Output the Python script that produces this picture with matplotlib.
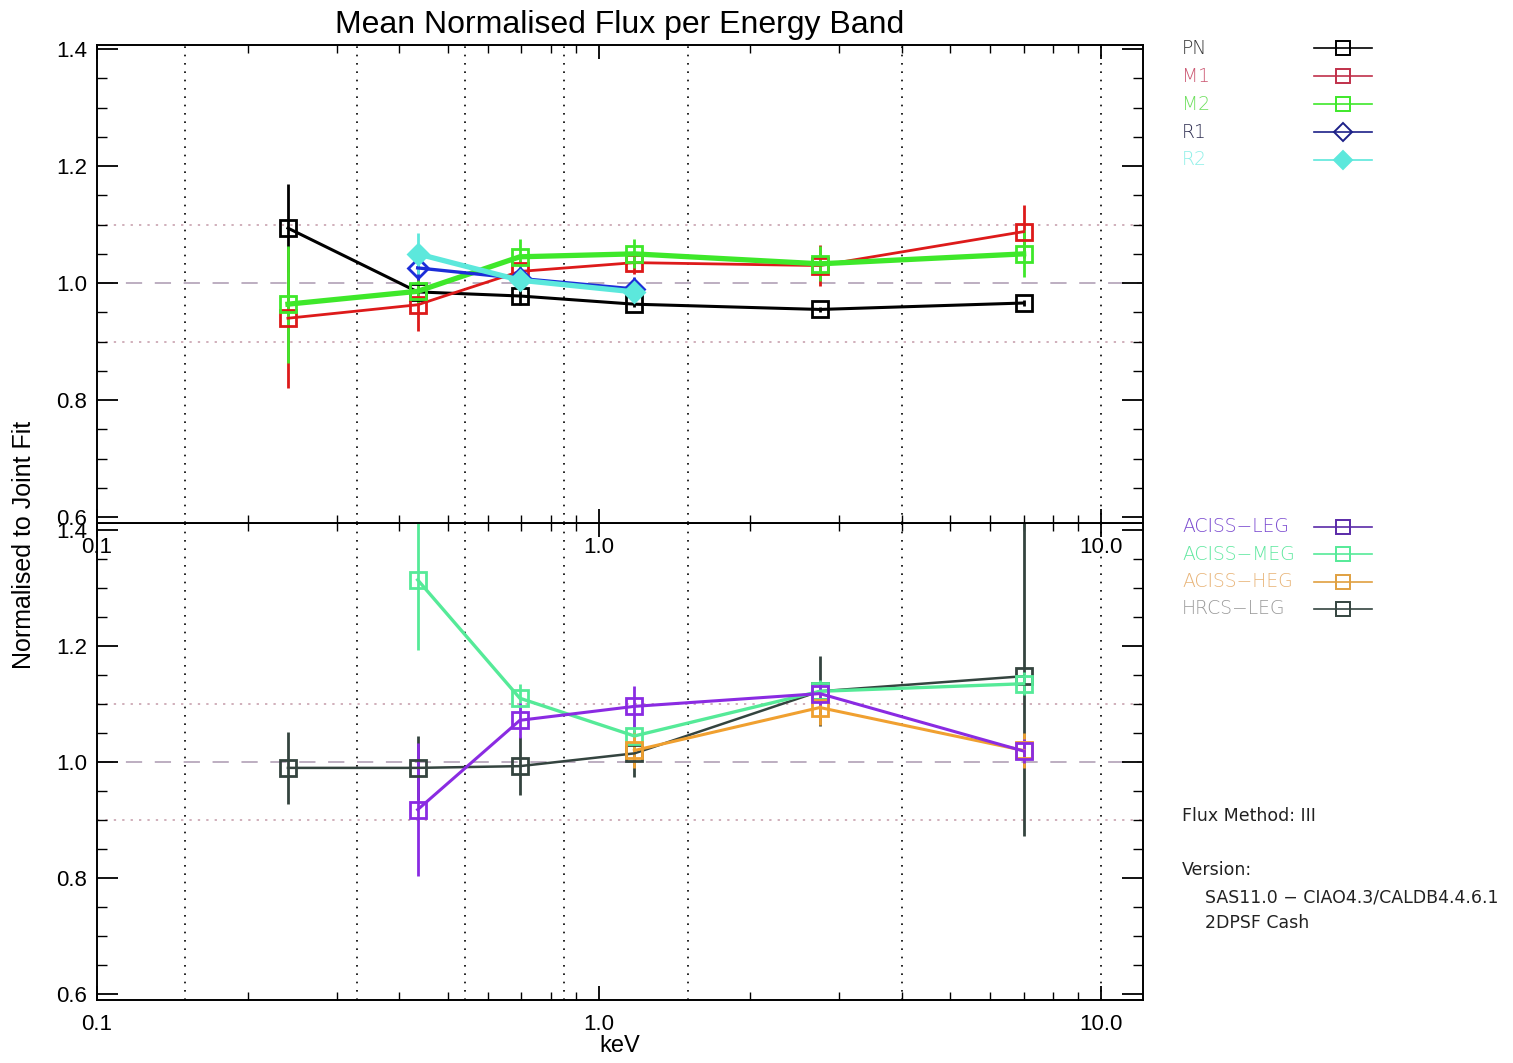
import matplotlib
matplotlib.use('Agg')
import matplotlib.pyplot as plt
import numpy as np
from matplotlib.lines import Line2D
from matplotlib.ticker import FixedLocator, MultipleLocator, LogLocator, NullFormatter

plt.rcParams['font.family'] = ['Liberation Sans', 'DejaVu Sans']

# energy bands (keV) and band centres
band_edges = [0.15, 0.33, 0.54, 0.85, 1.5, 4.0, 10.0]
energy = [0.24, 0.435, 0.695, 1.175, 2.75, 7.0]
energy_rgs = [0.435, 0.695, 1.175]
energy_acis = [0.435, 0.695, 1.175, 2.75, 7.0]
energy_heg = [1.175, 2.75, 7.0]

# top panel: XMM instruments
pn = [1.094, 0.985, 0.978, 0.964, 0.955, 0.966]
pn_err = [0.075, 0.01, 0.015, 0.005, 0.005, 0.005]
m1 = [0.940, 0.963, 1.020, 1.035, 1.030, 1.088]
m1_err = [0.12, 0.045, 0.02, 0.02, 0.035, 0.045]
m2 = [0.964, 0.986, 1.045, 1.050, 1.033, 1.050]
m2_err = [0.10, 0.02, 0.03, 0.025, 0.03, 0.04]
r1 = [1.026, 1.008, 0.990]
r1_err = [0.02, 0.01, 0.02]
r2 = [1.050, 1.005, 0.985]
r2_err = [0.035, 0.01, 0.02]

# bottom panel: Chandra instruments
leg = [0.918, 1.072, 1.096, 1.118, 1.019]
leg_err = [0.115, 0.03, 0.035, 0.02, 0.02]
meg = [1.314, 1.110, 1.045, 1.122, 1.135]
meg_err = [0.12, 0.025, 0.03, 0.02, 0.02]
heg = [1.020, 1.094, 1.020]
heg_err = [0.03, 0.03, 0.03]
hrcs = [0.990, 0.990, 0.993, 1.015, 1.122, 1.148]
hrcs_err = [0.062, 0.055, 0.05, 0.04, 0.06, 0.275]

W, H = 1513, 1063
fig = plt.figure(figsize=(W / 100, H / 100), dpi=100)

def fx(px):
    return px / W

def fy(py):
    return 1 - py / H

ax_bot = fig.add_axes([fx(97), fy(1000), fx(1143) - fx(97), fy(523) - fy(1000)])
ax_top = fig.add_axes([fx(97), fy(523), fx(1143) - fx(97), fy(45) - fy(523)])

def style_axes(ax, ylim):
    ax.set_xscale('log')
    ax.set_xlim(0.1, 12.1)
    ax.set_ylim(*ylim)
    for v in band_edges:
        ax.axvline(v, color='black', lw=1.2, ls=(0, (1, 4)), zorder=1)
    ax.axhline(1.1, color='#c49aa8', lw=1.1, ls=(0, (1.5, 4)), zorder=1)
    ax.axhline(0.9, color='#c49aa8', lw=1.1, ls=(0, (1.5, 4)), zorder=1)
    ax.axhline(1.0, color='#b8a8bc', lw=1.3, ls=(0, (9, 7)), zorder=1)
    ax.yaxis.set_major_locator(FixedLocator([0.6, 0.8, 1.0, 1.2, 1.4]))
    ax.yaxis.set_minor_locator(MultipleLocator(0.05))
    ax.yaxis.set_major_formatter(plt.FuncFormatter(lambda v, p: '%.1f' % v))
    ax.xaxis.set_major_locator(FixedLocator([0.1, 1.0, 10.0]))
    ax.xaxis.set_minor_locator(LogLocator(base=10, subs=np.arange(2, 10)))
    ax.xaxis.set_minor_formatter(NullFormatter())
    ax.xaxis.set_major_formatter(plt.FuncFormatter(lambda v, p: '%.1f' % v))
    ax.tick_params(axis='both', which='both', direction='in', top=True, right=True,
                   colors='black', labelsize=16)
    ax.tick_params(axis='y', which='major', length=15, width=1.3, pad=7)
    ax.tick_params(axis='y', which='minor', length=7, width=1.0)
    ax.tick_params(axis='x', which='major', length=10, width=1.3, pad=10)
    ax.tick_params(axis='x', which='minor', length=6, width=1.0)
    for s in ax.spines.values():
        s.set_linewidth(1.4)

style_axes(ax_top, (0.59, 1.407))
style_axes(ax_bot, (0.59, 1.412))

def series(ax, x, y, e, color, marker='s', lw=2.0, ms=12, mfc='none'):
    ax.errorbar(x, y, yerr=e, color=color, lw=lw, elinewidth=2.0, capsize=0,
                marker=marker, ms=ms, mfc=mfc, mec=color, mew=2.0, zorder=3)

series(ax_top, energy, pn, pn_err, 'black', lw=2.2)
series(ax_top, energy, m1, m1_err, '#dd1a1a', lw=2.0)
series(ax_top, energy, m2, m2_err, '#3ee82a', lw=3.8)
series(ax_top, energy_rgs, r1, r1_err, '#1c2ed8', marker='D', lw=2.4, ms=10)
series(ax_top, energy_rgs, r2, r2_err, '#5ce8dc', marker='D', lw=3.8, ms=10, mfc='#5ce8dc')

series(ax_bot, energy, hrcs, hrcs_err, '#34443f', lw=1.8)
series(ax_bot, energy_acis, meg, meg_err, '#55ea98', lw=2.4)
series(ax_bot, energy_heg, heg, heg_err, '#f0a030', lw=2.2)
series(ax_bot, energy_acis, leg, leg_err, '#8a2be2', lw=2.2)

ax_top.set_title('Mean Normalised Flux per Energy Band', fontsize=23, pad=9)
ax_bot.set_xlabel('keV', fontsize=17, labelpad=0)
fig.text(fx(24), fy(545), 'Normalised to Joint Fit', rotation=90, fontsize=18,
         ha='center', va='center')

# legends drawn at the right of the panels
def legend_row(py, label, color, tcolor, marker='s', mfc='none'):
    fig.text(fx(1182), fy(py), label, color=tcolor, fontsize=13.5,
             ha='left', va='center', family='DejaVu Sans', fontweight='light')
    fig.add_artist(Line2D([fx(1314), fx(1372)], [fy(py), fy(py)], color=color,
                          lw=1.2, transform=fig.transFigure))
    fig.add_artist(Line2D([fx(1343)], [fy(py)], color=color, marker=marker, ms=10 if marker == 's' else 9,
                          mfc=mfc, mec=color, mew=1.4, transform=fig.transFigure))

top_labels = ['PN', 'M1', 'M2', 'R1', 'R2']
top_colors = ['black', '#c0304a', '#3ee82a', '#1c2088', '#5ce8dc']
top_tcolors = ['#333333', '#cc5a74', '#70e060', '#333355', '#90f0e8']
top_markers = ['s', 's', 's', 'D', 'D']
for i, lab in enumerate(top_labels):
    legend_row(48 + 28 * i, lab, top_colors[i], top_tcolors[i], top_markers[i],
               mfc=top_colors[i] if lab == 'R2' else 'none')

bot_labels = ['ACISS\u2212LEG', 'ACISS\u2212MEG', 'ACISS\u2212HEG', 'HRCS\u2212LEG']
bot_colors = ['#5a2aa8', '#55ea98', '#e0a040', '#34443f']
bot_tcolors = ['#7a4ad0', '#60e8a0', '#e8b478', '#9a9a9a']
for i, lab in enumerate(bot_labels):
    legend_row(527 + 27.3 * i, lab, bot_colors[i], bot_tcolors[i])

info_kw = dict(fontsize=12.5, ha='left', va='center', color='#222222', family='DejaVu Sans')
fig.text(fx(1182), fy(816), 'Flux Method: III', **info_kw)
fig.text(fx(1182), fy(870), 'Version:', **info_kw)
fig.text(fx(1205), fy(897), 'SAS11.0 \u2212 CIAO4.3/CALDB4.4.6.1', **info_kw)
fig.text(fx(1205), fy(923), '2DPSF Cash', **info_kw)

fig.savefig('out.png', dpi=100)
